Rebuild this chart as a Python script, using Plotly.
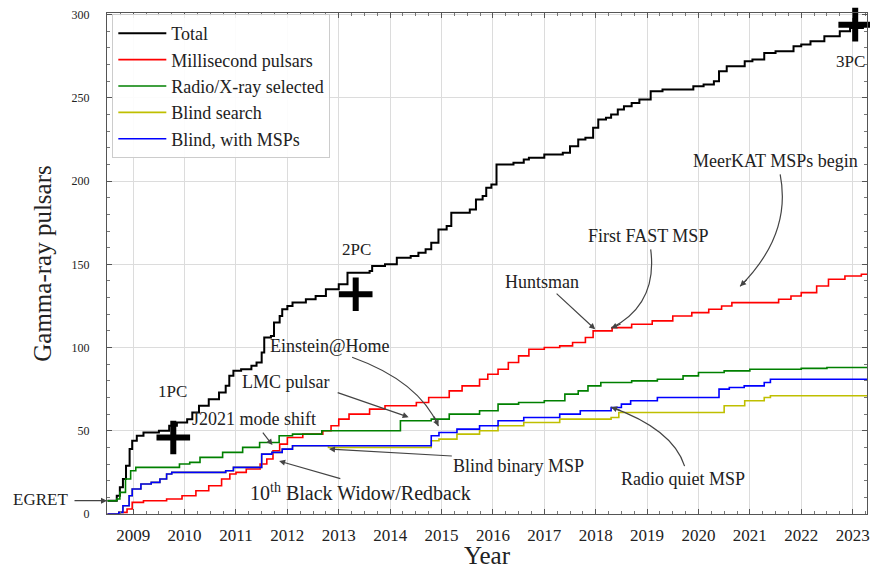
import plotly.graph_objects as go

# ---------------- data (decimal year, cumulative count) ----------------
total_years = [2008.50, 2008.68, 2008.74, 2008.80, 2008.86, 2008.93, 2008.98, 2009.07, 2009.20,
               2009.50, 2009.70, 2009.85, 2010.05, 2010.15, 2010.28, 2010.47, 2010.67, 2010.80,
               2010.87, 2010.95, 2011.10, 2011.30, 2011.40, 2011.50, 2011.55, 2011.68, 2011.74,
               2011.85, 2011.90, 2012.00, 2012.10, 2012.36, 2012.55, 2012.75, 2013.00, 2013.17,
               2013.60, 2013.65, 2013.90, 2014.13, 2014.40, 2014.55, 2014.69, 2014.80, 2014.94,
               2015.10, 2015.19, 2015.55, 2015.67, 2015.80, 2015.87, 2015.97, 2016.07, 2016.40,
               2016.60, 2016.70, 2017.00, 2017.36, 2017.50, 2017.66, 2017.80, 2017.95, 2018.05,
               2018.20, 2018.30, 2018.43, 2018.55, 2018.70, 2018.85, 2019.07, 2019.30, 2019.90,
               2020.10, 2020.30, 2020.40, 2020.55, 2020.90, 2021.05, 2021.28, 2021.50, 2021.85,
               2022.00, 2022.18, 2022.45, 2022.75, 2022.95, 2023.20, 2023.30]
total_vals = [8, 11, 16, 21, 29, 39, 44, 47, 49,
              50, 53, 55, 57, 61, 65, 69, 73, 77,
              83, 86, 87, 89, 91, 97, 106, 107, 115,
              119, 123, 125, 127, 129, 131, 135, 138, 145,
              146, 149, 150, 154, 155, 157, 159, 163, 171,
              173, 181, 183, 189, 191, 196, 198, 210, 211,
              213, 214, 216, 217, 221, 225, 226, 232, 237,
              238, 240, 243, 245, 247, 249, 254, 255, 257,
              258, 260, 266, 269, 272, 273, 277, 278, 281,
              282, 284, 287, 290, 292, 294, 295]

msp_years = [2008.50, 2008.72, 2008.88, 2008.98, 2009.20, 2009.65, 2009.95, 2010.22, 2010.47,
             2010.72, 2010.88, 2011.00, 2011.20, 2011.47, 2011.60, 2011.72, 2011.85, 2012.00,
             2012.30, 2012.69, 2012.85, 2013.00, 2013.20, 2013.60, 2013.90, 2014.51, 2014.75,
             2015.15, 2015.40, 2015.74, 2015.90, 2016.10, 2016.30, 2016.50, 2016.70, 2017.00,
             2017.30, 2017.55, 2017.80, 2017.95, 2018.32, 2018.70, 2019.10, 2019.50, 2019.87,
             2020.20, 2020.45, 2020.65, 2021.56, 2021.80, 2022.00, 2022.30, 2022.53, 2022.85,
             2023.17, 2023.30]
msp_vals = [0, 1, 3, 7, 8, 9, 11, 14, 17,
            21, 24, 25, 27, 30, 33, 38, 42, 46,
            48, 50, 53, 57, 60, 63, 65, 67, 70,
            74, 77, 81, 84, 87, 91, 95, 99, 100,
            101, 103, 106, 110, 112, 114, 116, 119, 121,
            123, 125, 127, 129, 131, 133, 137, 141, 143,
            144, 145]

radio_years = [2008.50, 2008.68, 2008.74, 2008.85, 2008.95, 2009.05, 2009.90, 2010.10, 2010.30,
               2010.74, 2011.13, 2011.46, 2011.84, 2012.10, 2012.67, 2014.05, 2014.20, 2014.80,
               2015.15, 2015.74, 2016.10, 2016.50, 2017.00, 2017.40, 2017.66, 2017.85, 2018.10,
               2018.70, 2019.20, 2019.70, 2020.00, 2020.50, 2021.00, 2022.00, 2022.50, 2023.30]
radio_vals = [8, 9, 13, 21, 26, 28, 30, 31, 34,
              37, 40, 43, 47, 48, 50, 50, 56, 57,
              60, 62, 66, 67, 68, 72, 74, 77, 79,
              80, 81, 83, 85, 86, 87, 87.5, 88, 88]

blind_years = [2008.50, 2008.72, 2008.80, 2008.92, 2008.98, 2009.15, 2009.35, 2009.52, 2009.65,
               2009.75, 2010.80, 2010.95, 2011.50, 2011.70, 2011.90, 2012.10, 2012.80, 2014.80,
               2014.95, 2015.30, 2015.74, 2016.10, 2016.60, 2017.30, 2018.30, 2018.45, 2020.40,
               2020.50, 2020.90, 2021.28, 2021.40, 2023.30]
blind_vals = [0, 1, 5, 11, 15, 18, 19, 21, 24,
              25, 26, 28, 36, 37, 39, 41, 40, 44,
              45, 48, 50, 53, 55, 57, 58, 61, 61,
              65, 68, 70, 71, 71]

blindmsp_years = [2008.50, 2008.72, 2008.80, 2008.92, 2008.98, 2009.15, 2009.35, 2009.52, 2009.65,
                  2009.75, 2010.80, 2010.95, 2011.50, 2011.70, 2011.90, 2012.10, 2014.80, 2014.95,
                  2015.30, 2015.74, 2016.10, 2016.60, 2017.30, 2017.70, 2018.30, 2018.50, 2018.68,
                  2019.20, 2020.40, 2020.60, 2020.89, 2021.28, 2021.40, 2023.30]
blindmsp_vals = [0, 1, 5, 11, 15, 18, 19, 21, 24,
                 25, 26, 28, 36, 37, 39, 41, 47, 49,
                 51, 53, 56, 58, 60, 62, 64, 66, 68,
                 70, 75, 76, 77, 79, 81, 81]

catalog_names = ["1PC", "2PC", "3PC"]
catalog_years = [2009.78, 2013.33, 2023.05]
catalog_counts = [46, 132, 294]

series_names = ["Total", "Millisecond pulsars", "Radio/X-ray selected", "Blind search", "Blind, with MSPs"]
series_colors = ["#000000", "#ff0000", "#008000", "#bfbf00", "#0000ff"]

year_ticks = list(range(2009, 2024))

# ---------------- figure ----------------
fig = go.Figure()
series = [(total_years, total_vals), (msp_years, msp_vals), (radio_years, radio_vals),
          (blind_years, blind_vals), (blindmsp_years, blindmsp_vals)]
widths = [2, 1.6, 1.6, 1.6, 1.6]
for i in range(5):
    xs, ys = series[i]
    fig.add_trace(go.Scatter(x=xs, y=ys, mode="lines", line_shape="hv",
                             name=series_names[i], legendgroup=series_names[i],
                             line=dict(color=series_colors[i], width=widths[i])))

fig.add_trace(go.Scatter(x=catalog_years, y=catalog_counts, mode="markers", showlegend=False,
                         cliponaxis=False,
                         marker=dict(symbol="cross-thin", size=24, color="black",
                                     line=dict(width=6, color="black"))))

FONT = "Liberation Serif"
TXT = "#222222"
ARR = "#444444"

# catalog labels
for name, x, y in zip(catalog_names, [2009.77, 2013.34, 2022.95], [73.8, 159, 272]):
    fig.add_annotation(x=x, y=y, text=name, showarrow=False, font=dict(family=FONT, size=17, color=TXT))

# text labels
labels = [
    ("J2021 mode shift", 2011.36, 57.0, 18),
    ("LMC pulsar", 2011.98, 79.2, 18),
    ("Einstein@Home", 2012.83, 100.8, 18),
    ("10<sup>th</sup> Black Widow/Redback", 2013.43, 13.2, 20),
    ("Blind binary MSP", 2016.49, 28.8, 18),
    ("Radio quiet MSP", 2019.69, 21.0, 18),
    ("Huntsman", 2016.96, 139.2, 18),
    ("First FAST MSP", 2019.02, 166.8, 18),
    ("MeerKAT MSPs begin", 2021.49, 211.8, 18),
]
for t, x, y, s in labels:
    fig.add_annotation(x=x, y=y, text=t, showarrow=False, font=dict(family=FONT, size=s, color=TXT))

# straight arrows (tail -> tip)
arrows = [
    (2011.50, 49.8, 2011.71, 41.4),
    (2012.95, 73.2, 2014.36, 58.2),
    (2013.06, 21.0, 2011.84, 31.8),
    (2015.23, 34.8, 2012.81, 39.0),
    (2017.21, 133.2, 2017.99, 111.0),
]
for ax_, ay_, x, y in arrows:
    fig.add_annotation(x=x, y=y, ax=ax_, ay=ay_, axref="x", ayref="y", text="",
                       showarrow=True, arrowhead=2, arrowsize=1, arrowwidth=1.2, arrowcolor=ARR)

# curved arrows: (tail, control, tip, head offset px)
curves = [
    ((2013.26, 94.2), (2014.56, 79.8), (2014.94, 52.8), (-5, -11)),   # Einstein@Home
    ((2019.73, 28.8), (2019.50, 51.0), (2018.30, 64.2), (11, 4)),     # Radio quiet MSP
    ((2019.07, 159.0), (2019.21, 126.0), (2018.30, 111.6), (11, -5)), # First FAST MSP
    ((2021.59, 204.0), (2021.82, 168.0), (2020.81, 136.8), (8, -8)),  # MeerKAT
]
for (x0, y0), (cx, cy), (x1, y1), (hx, hy) in curves:
    fig.add_shape(type="path", xref="x", yref="y",
                  path=f"M {x0},{y0} Q {cx},{cy} {x1},{y1}",
                  line=dict(color=ARR, width=1.2))
    fig.add_annotation(x=x1, y=y1, ax=hx, ay=hy, text="", showarrow=True,
                       arrowhead=2, arrowsize=1, arrowwidth=1.2, arrowcolor=ARR)

PLOT_W = 763
# EGRET (outside plot on the left)
fig.add_annotation(xref="paper", yref="y", x=(40 - 107) / PLOT_W, y=8.5, xanchor="center",
                   text="EGRET", showarrow=False, font=dict(family=FONT, size=17, color=TXT))
fig.add_annotation(xref="paper", yref="y", x=0.0, y=8, ax=-34, ay=0, text="",
                   showarrow=True, arrowhead=2, arrowsize=1, arrowwidth=1.2, arrowcolor=ARR)

axis_common = dict(showline=True, linecolor="#555555", linewidth=1, mirror="ticks",
                   ticks="inside", ticklen=5, tickcolor="#555555",
                   showgrid=True, gridcolor="#dcdcdc", gridwidth=1, zeroline=False,
                   ticklabeloverflow="allow")

fig.update_xaxes(range=[2008.49, 2008.49 + PLOT_W / 51.59], tickvals=year_ticks,
                 ticktext=[str(y) for y in year_ticks],
                 tickfont=dict(family=FONT, size=17, color=TXT), ticklabelstandoff=6,
                 minor=dict(dtick=0.25, tick0=2009, ticks="inside", ticklen=3, tickcolor="#777777", showgrid=False),
                 title=dict(text="Year", font=dict(family=FONT, size=25, color=TXT), standoff=6),
                 **axis_common)
fig.update_yaxes(range=[0, 301], tickvals=[0, 50, 100, 150, 200, 250, 300],
                 tickfont=dict(family=FONT, size=12, color=TXT), ticklabelstandoff=14,
                 minor=dict(dtick=10, ticks="inside", ticklen=3, tickcolor="#777777", showgrid=False),
                 title=dict(text="Gamma-ray pulsars", font=dict(family=FONT, size=25, color=TXT), standoff=12),
                 **axis_common)

fig.update_layout(
    width=870, height=569,
    margin=dict(l=107, r=0, t=13, b=54),
    paper_bgcolor="white", plot_bgcolor="white",
    font=dict(family=FONT, color=TXT),
    legend=dict(x=0.007, y=0.998, xanchor="left", yanchor="top", itemwidth=48,
                bgcolor="rgba(255,255,255,0.9)", bordercolor="#cccccc", borderwidth=1,
                font=dict(family=FONT, size=18, color=TXT), traceorder="grouped", tracegroupgap=0),
    showlegend=True,
)

# remove the default 8px page margin so the 870x569 figure fills the window exactly
fig.write_html("out.html",
               config={"displayModeBar": False},
               post_script="document.body.style.margin='0';document.documentElement.style.overflow='hidden';")
